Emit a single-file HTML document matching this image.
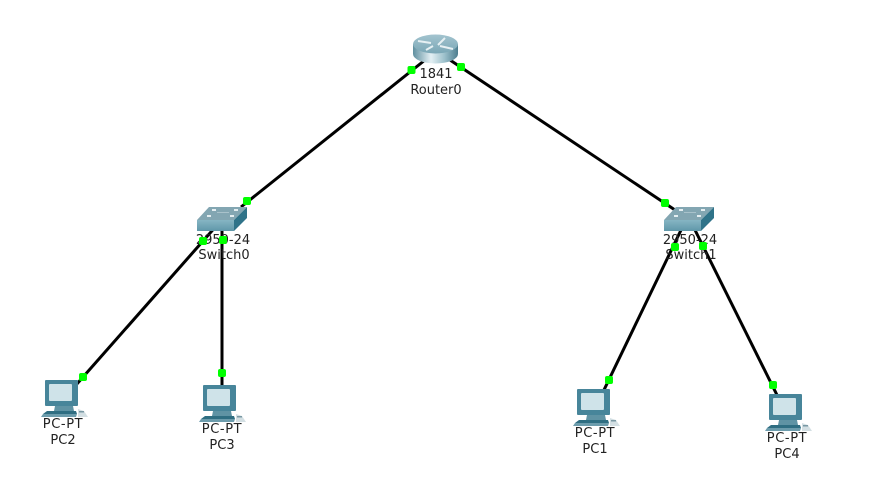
<!DOCTYPE html>
<html>
<head>
<meta charset="utf-8">
<style>
html,body{margin:0;padding:0;background:#fff;width:892px;height:494px;overflow:hidden}
svg{display:block}
text{font-family:"DejaVu Sans",sans-serif;font-size:13px;fill:#222;text-anchor:middle}
</style>
</head>
<body>
<svg width="892" height="494" viewBox="0 0 892 494" xmlns="http://www.w3.org/2000/svg">
<defs>
<linearGradient id="rside" x1="0" y1="0" x2="1" y2="0">
<stop offset="0" stop-color="#5f8f9f"/><stop offset=".4" stop-color="#e4f0f4"/><stop offset=".7" stop-color="#9cc0cb"/><stop offset="1" stop-color="#4c7d8e"/>
</linearGradient>
<linearGradient id="rtop" x1="0" y1="0" x2="0" y2="1">
<stop offset="0" stop-color="#a3c4cf"/><stop offset="1" stop-color="#7aa7b6"/>
</linearGradient>
<linearGradient id="sfront" x1="0" y1="0" x2="0" y2="1">
<stop offset="0" stop-color="#86b5c3"/><stop offset="1" stop-color="#5f97a9"/>
</linearGradient>
<g id="sw">
<polygon points="12,0 50,0 37,13 0,13" fill="#83a6b2"/>
<polygon points="0,13 37,13 37,24 0,24" fill="url(#sfront)"/>
<polygon points="37,13 50,0 50,11 37,24" fill="#2f7389"/>
<g fill="#e4eef1">
<rect x="15" y="2" width="4" height="2"/><rect x="37" y="2" width="4" height="2"/>
<rect x="10" y="8" width="4" height="2"/><rect x="33" y="8" width="4" height="2"/>
<rect x="20" y="5" width="12" height="1" fill="#a9c2cb"/>
</g>
</g>
<g id="pc">
<rect x="4" y="0" width="33" height="26" rx="1" fill="#47859a"/>
<rect x="8" y="4" width="23" height="17" rx="1" fill="#cfe3e9"/>
<polygon points="14,26 32,26 33,31 13,31" fill="#5f93a4"/>
<polygon points="6,31 35,31 36,34 2,34" fill="#2f6e82"/>
<polygon points="2,34 36,34 35,37 0,37" fill="#6c9cac"/>
<polygon points="37,29 43,31 47,37 37,37" fill="#d3dfe3"/>
<rect x="38" y="31" width="5" height="1.500" fill="#7a99a4"/>
</g>
</defs>

<g stroke="#000" stroke-width="3" fill="none">
<line x1="425" y1="60" x2="241" y2="207"/>
<line x1="450" y1="60" x2="675" y2="210"/>
<line x1="218" y1="224" x2="76" y2="385"/>
<line x1="222" y1="226" x2="222" y2="388"/>
<line x1="682" y1="228" x2="603" y2="392"/>
<line x1="694" y1="228" x2="778" y2="397"/>
</g>

<!-- Router -->
<path d="M413 44 V54 A22.500 9.500 0 0 0 458 54 V44 Z" fill="url(#rside)"/>
<ellipse cx="435.500" cy="44" rx="22.500" ry="9.500" fill="url(#rtop)"/>
<g stroke="#e6f0f3" stroke-width="2" fill="none">
<path d="M418 41 L431 43 M445 38 L438 45 M426 50 L433 46 M440 46 L453 49"/>
</g>

<!-- Switches -->
<use href="#sw" x="197" y="207"/>
<use href="#sw" x="664" y="207"/>

<!-- PCs -->
<use href="#pc" x="41" y="380"/>
<use href="#pc" x="199" y="385"/>
<use href="#pc" x="573" y="389"/>
<use href="#pc" x="765" y="394"/>

<!-- Labels -->
<text x="436" y="78">1841</text>
<text x="436" y="94">Router0</text>
<text x="223" y="244">2950-24</text>
<text x="224" y="259">Switch0</text>
<text x="690" y="244">2950-24</text>
<text x="691" y="259">Switch1</text>
<text x="63" y="428" letter-spacing=".6">PC-PT</text>
<text x="63" y="444">PC2</text>
<text x="222" y="433" letter-spacing=".6">PC-PT</text>
<text x="222" y="449">PC3</text>
<text x="595" y="437" letter-spacing=".6">PC-PT</text>
<text x="595" y="453">PC1</text>
<text x="787" y="442" letter-spacing=".6">PC-PT</text>
<text x="787" y="458">PC4</text>

<!-- Link lights -->
<g fill="#00ff00">
<rect x="407.500" y="66" width="8" height="8" rx="2"/>
<rect x="457" y="63" width="8" height="8" rx="2"/>
<rect x="243" y="197" width="8" height="8" rx="2"/>
<rect x="661" y="199" width="8" height="8" rx="2"/>
<rect x="199" y="237" width="8" height="8" rx="2"/>
<rect x="219" y="236" width="8" height="8" rx="2"/>
<rect x="671" y="243" width="8" height="8" rx="2"/>
<rect x="699" y="242" width="8" height="8" rx="2"/>
<rect x="79" y="373" width="8" height="8" rx="2"/>
<rect x="218" y="369" width="8" height="8" rx="2"/>
<rect x="605" y="376" width="8" height="8" rx="2"/>
<rect x="769" y="381" width="8" height="8" rx="2"/>
</g>
</svg>
</body>
</html>
